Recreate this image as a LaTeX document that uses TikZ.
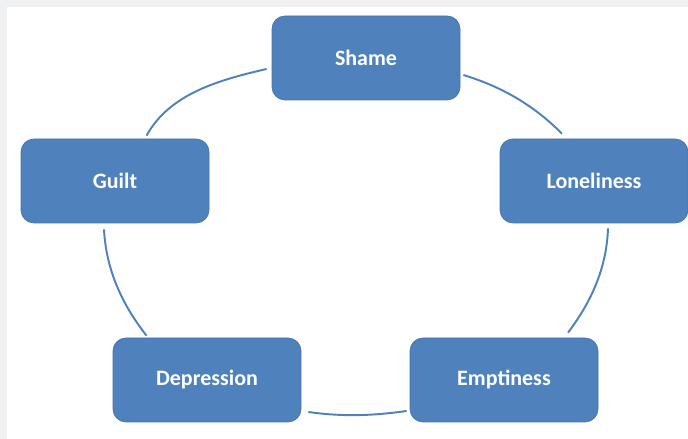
\documentclass[tikz,border=0pt]{standalone}
\usepackage{fontspec}
\setmainfont{Carlito}
\usepackage{tikz}
\usetikzlibrary{positioning}
\definecolor{bleusmart}{HTML}{4F81BD}
\definecolor{bordsmart}{HTML}{4573AD}
\definecolor{fond}{HTML}{EFF1F3}
\tikzstyle{bleu} = [rectangle, rounded corners = 0.26cm, minimum width = 3.76cm, minimum height = 1.68cm, text centered, draw = bordsmart, fill = bleusmart, text = white, font = \fontsize{12.5}{15}\selectfont\bfseries]
\tikzstyle{lien} = [draw = bleusmart, line width = 1.1pt, looseness = 0.9]

\begin{document}
\begin{tikzpicture}[on grid]

\useasboundingbox (0,0) rectangle (13.76,8.78);
\fill[fond] (0,0) rectangle (13.76,8.78);
\fill[white] (0.14,0) rectangle (13.76,8.64);

\node (1) [bleu] at (7.32,7.62) {Shame};
\node (2) [bleu, below right = 2.46cm and 4.56cm of 1] {Loneliness};
\node (3) [bleu, below right = 6.44cm and 2.76cm of 1] {Emptiness};
\node (4) [bleu, below left  = 6.44cm and 3.18cm of 1] {Depression};
\node (5) [bleu, below left  = 2.46cm and 5.02cm of 1] {Guilt};

\draw[lien] ([shift={(-0.10,-0.22)}]1.west) to[out=193, in=61] ([shift={(0.63,0.06)}]5.north);
\draw[lien] ([shift={(-0.22,-0.12)}]5.south) to[out=-87, in=128] ([shift={(-1.21,0.04)}]4.north);
\draw[lien] ([shift={(0.14,-0.64)}]4.east) to[out=-8, in=188] ([shift={(-0.06,-0.62)}]3.west);
\draw[lien] ([shift={(1.28,0.10)}]3.north) to[out=53, in=-92] ([shift={(0.28,-0.10)}]2.south);
\draw[lien] ([shift={(-0.64,0.10)}]2.north) to[out=135, in=-17] ([shift={(0.06,-0.34)}]1.east);

\end{tikzpicture}
\end{document}
